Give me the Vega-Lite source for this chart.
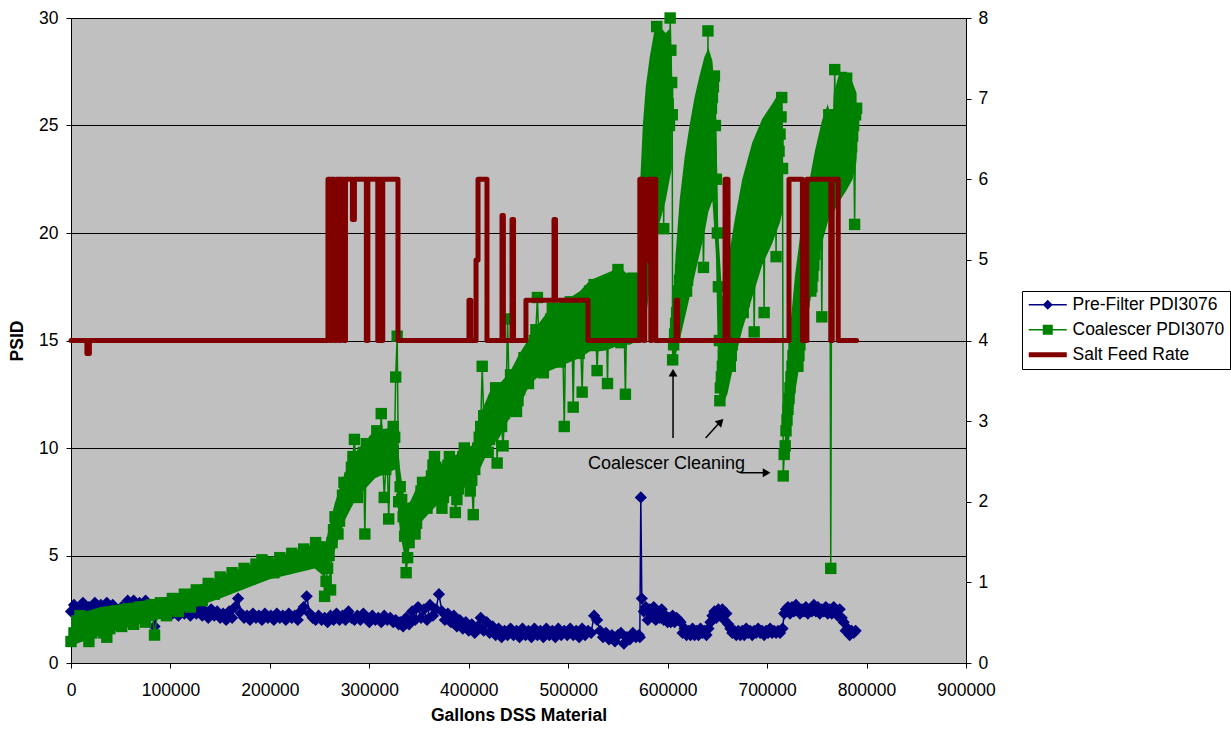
{
"$schema": "https://vega.github.io/schema/vega-lite/v6.json",
"width": 895, "height": 645,
"autosize": {"type": "none"},
"padding": {"left": 71, "top": 18, "right": 265, "bottom": 67},
"background": "white",
"config": {
 "view": {"fill": "#C0C0C0", "stroke": "#808080", "strokeWidth": 1},
 "font": "Liberation Sans",
 "axis": {"labelFont": "Liberation Sans", "labelFontSize": 17.5, "labelColor": "#000", "titleFont": "Liberation Sans", "titleFontSize": 17.5, "titleFontWeight": "bold", "titleColor": "#000", "domainColor": "#000", "domainWidth": 1, "tickColor": "#000", "tickSize": 5, "tickWidth": 1}
},
"datasets": {
 "main": [
{"g":0,"p":2.4,"c":1.0},{"g":3000,"p":2.7,"c":1.4},{"g":6000,"p":2.3,"c":1.8},{"g":9000,"p":2.6,"c":2.2},{"g":12000,"p":2.8,"c":1.8},{"g":15000,"p":2.4,"c":1.4},{"g":18000,"p":2.6,"c":1.0},{"g":21000,"p":2.3,"c":1.4},{"g":24000,"p":2.8,"c":1.8},{"g":27000,"p":2.5,"c":2.2},{"g":30000,"p":2.7,"c":1.8},{"g":33000,"p":2.4,"c":1.4},{"g":36000,"p":2.8,"c":1.2},{"g":39000,"p":2.3,"c":1.6},{"g":42000,"p":2.7,"c":2.0},{"g":45000,"p":2.5,"c":2.4},{"g":48000,"p":2.2,"c":2.0},{"g":51000,"p":2.6,"c":1.7},{"g":54000,"p":2.4,"c":2.1},{"g":57000,"p":2.9,"c":2.5},{"g":60000,"p":2.5,"c":2.1},{"g":63000,"p":2.9,"c":1.8},{"g":66000,"p":2.4,"c":2.2},{"g":69000,"p":2.8,"c":2.6},{"g":72000,"p":2.5,"c":2.2},{"g":75000,"p":2.9,"c":1.9},{"g":78000,"p":2.2,"c":2.3},{"g":81000,"p":2.7,"c":2.7},{"g":84000,"p":1.7,"c":1.3},{"g":87000,"p":2.4,"c":2.3},{"g":90000,"p":2.7,"c":2.8},{"g":93000,"p":2.4,"c":2.4},{"g":96000,"p":2.8,"c":2.2},{"g":99000,"p":2.5,"c":2.6},
{"g":102000,"p":2.3,"c":3.0},{"g":105000,"p":2.6,"c":2.6},{"g":108000,"p":2.2,"c":2.4},{"g":111000,"p":2.7,"c":2.8},{"g":114000,"p":2.3,"c":3.2},{"g":117000,"p":2.6,"c":2.8},{"g":120000,"p":2.2,"c":2.6},{"g":123000,"p":2.5,"c":3.0},{"g":126000,"p":2.3,"c":3.4},{"g":129000,"p":2.6,"c":3.0},{"g":132000,"p":2.2,"c":2.9},{"g":135000,"p":2.4,"c":3.3},{"g":138000,"p":2.1,"c":3.7},{"g":141000,"p":2.5,"c":3.3},{"g":144000,"p":2.2,"c":3.2},{"g":147000,"p":2.4,"c":3.6},{"g":150000,"p":2.1,"c":4.0},{"g":153000,"p":2.3,"c":3.6},{"g":156000,"p":2.0,"c":3.5},{"g":159000,"p":2.4,"c":3.9},{"g":162000,"p":2.1,"c":4.2},{"g":165000,"p":2.6,"c":3.8},{"g":168000,"p":3.0,"c":3.7},{"g":171000,"p":2.3,"c":4.1},{"g":174000,"p":2.1,"c":4.4},{"g":177000,"p":2.2,"c":4.0},{"g":180000,"p":2.0,"c":3.9},{"g":183000,"p":2.3,"c":4.3},{"g":186000,"p":2.1,"c":4.6},{"g":189000,"p":2.2,"c":4.2},{"g":192000,"p":2.0,"c":4.8},{"g":195000,"p":2.3,"c":4.3},{"g":198000,"p":2.1,"c":4.7},
{"g":201000,"p":2.2,"c":4.3},{"g":204000,"p":2.0,"c":4.2},{"g":207000,"p":2.3,"c":4.6},{"g":210000,"p":2.1,"c":4.9},{"g":213000,"p":2.2,"c":4.5},{"g":216000,"p":2.0,"c":4.4},{"g":219000,"p":2.3,"c":4.8},{"g":222000,"p":2.1,"c":5.1},{"g":225000,"p":2.2,"c":4.7},{"g":228000,"p":2.0,"c":4.6},{"g":231000,"p":2.4,"c":5.0},{"g":234000,"p":2.6,"c":5.3},{"g":237000,"p":3.1,"c":4.9},{"g":240000,"p":2.3,"c":4.8},{"g":243000,"p":2.1,"c":5.2},{"g":246000,"p":2.0,"c":5.6},{"g":249000,"p":2.2,"c":5.2},
{"g":250500,"c":5.4},{"g":252000,"p":2.0,"c":5.0},{"g":253500,"c":4.6},{"g":255000,"p":2.1,"c":3.1},{"g":256500,"c":3.8},{"g":258000,"p":1.9,"c":4.4},{"g":259500,"c":5.0},{"g":261000,"p":2.2,"c":3.4},{"g":262500,"c":5.6},{"g":264000,"p":2.0,"c":6.2},{"g":265500,"c":6.8},{"g":267000,"p":2.3,"c":6.4},{"g":268500,"c":6.0},{"g":270000,"p":2.0,"c":6.6},{"g":271500,"c":7.2},{"g":273000,"p":2.2,"c":7.8},{"g":274500,"c":8.4},{"g":276000,"p":2.0,"c":8.0},{"g":277500,"c":7.6},{"g":279000,"p":2.4,"c":8.1},{"g":280500,"c":8.6},{"g":282000,"p":2.1,"c":9.1},{"g":283500,"c":9.6},{"g":285000,"p":2.0,"c":10.4},{"g":286500,"c":9.2},{"g":288000,"p":2.2,"c":7.7},{"g":289500,"c":8.4},{"g":291000,"p":2.0,"c":8.8},{"g":292500,"c":9.3},{"g":294000,"p":2.3,"c":9.8},{"g":295500,"c":6.0},{"g":297000,"p":2.1,"c":10.2},{"g":298500,"c":9.7},{"g":300000,"p":1.9,"c":9.3},{"g":301500,"c":8.9},{"g":303000,"p":2.2,"c":9.3},{"g":304500,"c":9.8},{"g":306000,"p":2.0,"c":10.3},{"g":307500,"c":10.8},{"g":309000,"p":2.1,"c":10.4},{"g":310500,"c":10.0},{"g":312000,"p":1.9,"c":11.6},{"g":313500,"c":9.4},{"g":315000,"p":2.2,"c":7.7},{"g":316500,"c":9.0},{"g":318000,"p":2.0,"c":9.5},{"g":319500,"c":6.7},{"g":321000,"p":2.1,"c":10.0},{"g":322500,"c":10.5},{"g":324000,"p":1.9,"c":11.0},{"g":325500,"c":10.5},{"g":326500,"p":2.0,"c":13.3},{"g":328000,"p":1.9,"c":15.2},{"g":329500,"p":1.8,"c":7.5},{"g":331000,"p":1.9,"c":8.2},{"g":332500,"c":7.6},{"g":334000,"p":1.7,"c":6.8},{"g":335500,"c":5.9},{"g":337000,"p":2.1,"c":4.2},{"g":338500,"c":4.9},{"g":340000,"p":1.8,"c":5.6},{"g":341500,"c":6.3},{"g":343000,"p":2.4,"c":7.0},{"g":344500,"c":6.4},{"g":346000,"p":2.0,"c":6.0},{"g":347500,"c":6.5},{"g":349000,"p":2.6,"c":7.0},{"g":350500,"c":7.5},{"g":352000,"p":2.1,"c":8.0},{"g":353500,"c":8.4},{"g":355000,"p":2.5,"c":7.9},{"g":356500,"c":7.4},{"g":358000,"p":2.0,"c":7.2},{"g":359500,"c":7.7},{"g":361000,"p":2.7,"c":8.2},{"g":362500,"c":8.7},{"g":364000,"p":2.2,"c":9.2},{"g":365500,"c":9.6},{"g":367000,"p":2.5,"c":9.1},{"g":368500,"c":8.6},{"g":370000,"p":3.2,"c":8.1},{"g":371500,"c":7.6},{"g":373000,"p":2.4,"c":7.2},{"g":374500,"c":7.7},{"g":376000,"p":2.0,"c":8.2},{"g":377500,"c":8.7},{"g":379000,"p":2.3,"c":9.2},{"g":380500,"c":9.6},{"g":382000,"p":1.9,"c":9.1},{"g":383500,"c":8.6},{"g":385000,"p":2.2,"c":8.1},{"g":386500,"c":7.0},{"g":388000,"p":1.7,"c":7.6},{"g":389500,"c":8.1},{"g":391000,"p":2.0,"c":8.6},{"g":392500,"c":9.1},{"g":394000,"p":1.6,"c":9.6},{"g":395500,"c":10.0},{"g":397000,"p":1.9,"c":9.5},{"g":398500,"c":9.0},{"g":400000,"p":1.5,"c":8.5},{"g":401500,"c":8.0},{"g":403000,"p":1.8,"c":8.5},{"g":404500,"c":6.9},{"g":406000,"p":1.4,"c":9.0},{"g":407500,"c":9.5},{"g":409000,"p":1.7,"c":10.0},{"g":410500,"c":10.5},{"g":412000,"p":2.1,"c":11.0},{"g":413500,"c":13.8},{"g":415000,"p":1.5,"c":11.5},{"g":416500,"c":11.0},{"g":418000,"p":1.9,"c":10.4},{"g":419500,"c":9.8},{"g":421000,"p":1.4,"c":10.4},{"g":422500,"c":11.0},{"g":424000,"p":1.7,"c":11.6},{"g":425500,"c":12.2},{"g":427000,"p":1.3,"c":12.8},{"g":428500,"c":9.3},{"g":430000,"p":1.6,"c":12.2},{"g":431500,"c":11.6},{"g":433000,"p":1.2,"c":11.0},{"g":434500,"c":10.1},{"g":436000,"p":1.5,"c":11.6},{"g":437500,"c":12.2},{"g":439000,"p":1.3,"c":16.0},{"g":440500,"c":12.8},{"g":442000,"p":1.6,"c":13.4},{"g":443500,"c":13.0},{"g":445000,"p":1.3,"c":12.6},{"g":446500,"c":12.1},{"g":448000,"p":1.5,"c":11.7},{"g":449500,"c":12.2},{"g":451000,"p":1.2,"c":12.7},{"g":452500,"c":13.2},{"g":454000,"p":1.6,"c":13.7},{"g":455500,"c":14.2},{"g":457000,"p":1.3,"c":13.8},{"g":458500,"c":13.3},{"g":460000,"p":1.5,"c":13.0},{"g":461500,"c":13.5},{"g":463000,"p":1.2,"c":14.0},{"g":464500,"c":14.5},{"g":466000,"p":1.6,"c":15.0},{"g":467500,"c":15.5},{"g":469000,"p":1.3,"c":17.0},{"g":470500,"c":15.0},{"g":472000,"p":1.5,"c":14.5},{"g":473500,"c":14.0},{"g":475000,"p":1.2,"c":13.5},{"g":476500,"c":14.0},{"g":478000,"p":1.6,"c":14.5},{"g":479500,"c":15.0},{"g":481000,"p":1.3,"c":15.5},{"g":482500,"c":16.0},{"g":484000,"p":1.5,"c":16.5},{"g":485500,"c":16.0},{"g":487000,"p":1.2,"c":15.5},{"g":488500,"c":15.0},{"g":490000,"p":1.6,"c":14.5},{"g":491500,"c":14.0},{"g":493000,"p":1.3,"c":14.5},{"g":494500,"c":15.0},{"g":496000,"p":1.5,"c":11.0},{"g":497500,"c":15.5},{"g":499000,"p":1.3,"c":16.0},{"g":500500,"c":16.5},{"g":502000,"p":1.6,"c":16.8},{"g":503500,"c":16.3},{"g":505000,"p":1.3,"c":11.9},{"g":506500,"c":15.8},{"g":508000,"p":1.5,"c":15.3},{"g":509500,"c":14.8},{"g":511000,"p":1.2,"c":14.4},{"g":512500,"c":14.9},{"g":514000,"p":1.6,"c":12.6},{"g":515500,"c":15.4},{"g":517000,"p":1.3,"c":15.9},{"g":518500,"c":16.4},{"g":520000,"p":1.5,"c":16.9},{"g":521500,"c":17.3},{"g":523000,"p":1.4,"c":16.8},{"g":524500,"c":16.3},{"g":526000,"p":2.2,"c":17.6},{"g":527500,"c":15.8},{"g":529000,"p":2.0,"c":13.6},{"g":530500,"c":15.3},{"g":532000,"p":1.5,"c":14.8},{"g":533500,"c":15.3},{"g":535000,"p":1.2,"c":15.8},{"g":536500,"c":16.3},{"g":538000,"p":1.4,"c":16.8},{"g":539500,"c":13.0},{"g":541000,"p":1.1,"c":17.3},{"g":542500,"c":17.6},{"g":544000,"p":1.3,"c":17.1},{"g":545500,"c":16.6},{"g":547000,"p":1.0,"c":16.1},{"g":548500,"c":15.6},{"g":550000,"p":1.3,"c":18.3},{"g":551500,"c":15.2},{"g":553000,"p":1.4,"c":14.9},{"g":554500,"c":15.7},{"g":556000,"p":0.9,"c":16.2},{"g":557500,"c":12.5},{"g":559000,"p":1.2,"c":16.7},{"g":560500,"c":17.2},{"g":562000,"p":1.1,"c":17.7},{"g":563500,"c":15.5},{"g":565000,"p":1.4,"c":17.9},{"g":566500,"c":17.4},{"g":568000,"p":1.2,"c":16.9},{"g":569500,"c":16.4},{"g":571000,"p":1.3,"c":15.9},
{"g":572000,"p":1.2,"c":16.0},{"g":573000,"p":7.7,"c":16.5},{"g":574000,"p":3.0,"c":17.0},{"g":575000,"c":17.5},{"g":576000,"p":2.4,"c":18.0},{"g":577000,"c":18.5},{"g":578000,"p":2.6,"c":19.0},{"g":579000,"c":19.5},{"g":580000,"p":2.0,"c":20.0},{"g":581000,"c":20.5},{"g":582000,"p":2.5,"c":21.0},{"g":583000,"c":21.5},{"g":584000,"p":2.2,"c":22.0},{"g":585000,"c":22.5},{"g":586000,"p":2.6,"c":23.0},{"g":587000,"c":23.5},{"g":588000,"p":2.0,"c":24.0},{"g":589000,"c":29.6},{"g":589500,"c":24.5},{"g":590000,"p":2.3,"c":25.0},{"g":591000,"c":25.5},{"g":592000,"p":2.1,"c":26.0},{"g":593000,"c":26.5},{"g":594000,"p":2.5,"c":27.0},{"g":595000,"c":27.5},{"g":596000,"p":2.0,"c":20.2},{"g":597000,"c":28.0},{"g":598000,"p":2.2,"c":27.5},{"g":599000,"c":27.0},{"g":600000,"p":1.9,"c":26.5},{"g":600600,"c":26.0},{"g":601200,"p":2.1,"c":25.5},{"g":601800,"c":25.0},{"g":602500,"c":30.0},{"g":603200,"p":1.9,"c":28.5},{"g":604000,"c":27.0},{"g":604600,"c":25.5},
{"g":605000,"p":2.2,"c":14.1},{"g":606000,"c":14.8},{"g":607000,"p":1.9,"c":15.3},{"g":608000,"c":15.8},{"g":609000,"p":2.1,"c":16.3},{"g":610000,"c":16.8},{"g":611000,"p":2.0,"c":17.3},{"g":612000,"c":17.8},{"g":613000,"p":1.9,"c":18.3},{"g":614000,"c":18.8},{"g":615000,"p":1.4,"c":19.3},{"g":616000,"c":18.8},{"g":617000,"p":1.6,"c":18.3},{"g":618000,"c":17.8},{"g":619000,"p":1.3,"c":17.3},{"g":620000,"c":17.8},{"g":621000,"p":1.5,"c":18.3},{"g":622000,"c":18.8},{"g":623000,"p":1.3,"c":19.3},{"g":624000,"c":19.8},{"g":625000,"p":1.6,"c":20.3},{"g":626000,"c":20.8},{"g":627000,"p":1.3,"c":21.3},{"g":628000,"c":21.8},{"g":629000,"p":1.5,"c":22.3},{"g":630000,"c":22.8},{"g":631000,"p":1.3,"c":23.3},{"g":632000,"c":22.8},{"g":633000,"p":1.6,"c":22.3},{"g":634000,"c":21.8},{"g":635000,"p":1.4,"c":21.3},{"g":636000,"c":18.4},{"g":637000,"p":1.5,"c":21.8},{"g":638000,"c":22.3},{"g":639000,"p":1.3,"c":22.8},{"g":640000,"c":23.3},{"g":640500,"c":29.4},{"g":641000,"p":1.6,"c":24.3},{"g":642000,"c":24.8},{"g":643000,"p":1.9,"c":25.3},{"g":644000,"c":25.8},{"g":645000,"p":2.2,"c":26.3},{"g":646000,"c":26.8},{"g":647000,"p":2.4,"c":27.3},{"g":648000,"c":25.0},{"g":649000,"p":2.1,"c":22.5},{"g":650000,"c":20.0},{"g":651000,"p":2.5,"c":17.5},{"g":652000,"c":15.0},{"g":652500,"c":12.2},
{"g":653000,"p":2.2,"c":12.8},{"g":654000,"c":13.3},{"g":655000,"p":2.5,"c":13.8},{"g":656000,"c":14.3},{"g":657000,"p":2.0,"c":14.8},{"g":658000,"c":15.3},{"g":659000,"p":2.3,"c":15.8},{"g":660000,"c":15.3},{"g":661000,"p":1.8,"c":14.8},{"g":662000,"c":14.3},{"g":663000,"p":1.6,"c":13.8},{"g":664000,"c":14.3},{"g":665000,"p":1.4,"c":14.8},{"g":666000,"c":15.3},{"g":667000,"p":1.5,"c":15.8},{"g":668000,"c":16.3},{"g":669000,"p":1.3,"c":16.8},{"g":670000,"c":17.3},{"g":671000,"p":1.5,"c":17.8},{"g":672000,"c":18.3},{"g":673000,"p":1.3,"c":17.8},{"g":674000,"c":17.3},{"g":675000,"p":1.5,"c":16.8},{"g":676000,"c":16.3},{"g":677000,"p":1.3,"c":16.8},{"g":678000,"c":17.3},{"g":679000,"p":1.6,"c":17.8},{"g":680000,"c":18.3},{"g":681000,"p":1.4,"c":18.8},{"g":682000,"c":19.3},{"g":683000,"p":1.5,"c":19.8},{"g":684000,"c":20.3},{"g":685000,"p":1.3,"c":20.8},{"g":686000,"c":20.3},{"g":687000,"p":1.5,"c":15.4},{"g":688000,"c":19.8},{"g":689000,"p":1.4,"c":19.3},{"g":690000,"c":19.8},{"g":691000,"p":1.6,"c":20.3},{"g":692000,"c":20.8},{"g":693000,"p":1.4,"c":21.3},{"g":694000,"c":21.8},{"g":695000,"p":1.5,"c":22.3},{"g":696000,"c":22.8},{"g":697000,"p":1.3,"c":16.3},{"g":698000,"c":23.3},{"g":699000,"p":1.5,"c":22.8},{"g":700000,"c":22.3},{"g":701000,"p":1.4,"c":21.8},{"g":702000,"c":21.3},{"g":703000,"p":1.6,"c":21.8},{"g":704000,"c":22.3},{"g":705000,"p":1.4,"c":22.8},{"g":706000,"c":23.3},{"g":707000,"p":1.5,"c":23.8},{"g":708000,"c":24.3},{"g":709000,"p":1.4,"c":18.9},{"g":710000,"c":24.8},{"g":711000,"p":1.5,"c":24.3},{"g":712000,"c":23.8},{"g":713000,"p":1.4,"c":24.6},{"g":714000,"c":25.4},{"g":714700,"c":26.3},{"g":715500,"p":1.6,"c":23.0},{"g":716200,"c":8.7},{"g":717200,"p":2.3,"c":9.7},{"g":718200,"c":10.1},
{"g":719000,"p":2.5,"c":10.8},{"g":720000,"c":11.3},{"g":721000,"p":2.6,"c":11.8},{"g":722000,"c":12.3},{"g":723000,"p":2.3,"c":12.8},{"g":724000,"c":13.3},{"g":725000,"p":2.6,"c":13.8},{"g":726000,"c":14.3},{"g":727000,"p":2.4,"c":14.8},{"g":728000,"c":15.3},{"g":729000,"p":2.7,"c":14.8},{"g":730000,"c":14.3},{"g":731000,"p":2.5,"c":13.8},{"g":732000,"c":14.3},{"g":733000,"p":2.3,"c":14.8},{"g":734000,"c":15.3},{"g":735000,"p":2.5,"c":15.8},{"g":736000,"c":16.3},{"g":737000,"p":2.4,"c":16.8},{"g":738000,"c":17.3},{"g":739000,"p":2.6,"c":17.8},{"g":740000,"c":18.3},{"g":741000,"p":2.3,"c":18.8},{"g":742000,"c":18.3},{"g":743000,"p":2.5,"c":17.8},{"g":744000,"c":17.3},{"g":745000,"p":2.4,"c":17.5},{"g":746000,"c":18.0},{"g":747000,"p":2.7,"c":18.5},{"g":748000,"c":19.0},{"g":749000,"p":2.4,"c":19.5},{"g":750000,"c":20.0},{"g":751000,"p":2.6,"c":20.5},{"g":752000,"c":21.0},{"g":753000,"p":2.3,"c":21.5},{"g":754000,"c":22.0},{"g":755000,"p":2.5,"c":16.1},{"g":756000,"c":22.5},{"g":757000,"p":2.4,"c":23.0},{"g":758000,"c":23.5},{"g":759000,"p":2.6,"c":24.0},{"g":760000,"c":24.5},{"g":761000,"p":2.3,"c":25.0},{"g":762000,"c":25.5},{"g":763000,"p":2.5,"c":24.0},{"g":764000,"c":4.4},{"g":765000,"p":2.3,"c":22.0},{"g":766000,"c":22.5},{"g":767000,"p":2.6,"c":23.0},{"g":768000,"c":27.6},{"g":769000,"p":2.4,"c":23.5},{"g":770000,"c":24.0},{"g":771000,"p":2.2,"c":24.5},{"g":772000,"c":25.0},{"g":773000,"p":2.5,"c":25.5},{"g":774000,"c":26.0},{"g":775000,"p":2.1,"c":26.5},{"g":776000,"c":26.0},{"g":777000,"p":1.9,"c":25.5},{"g":778000,"c":25.0},{"g":779000,"p":1.5,"c":24.5},{"g":780000,"c":27.2},{"g":781000,"p":1.6,"c":24.0},{"g":782000,"c":23.5},{"g":783000,"p":1.3,"c":23.0},{"g":784000,"c":23.5},{"g":785000,"p":1.5,"c":24.0},{"g":786000,"c":24.5},{"g":787000,"p":1.4,"c":25.0},{"g":788000,"c":20.4},{"g":789000,"p":1.5,"c":25.5},{"g":790000,"c":25.8}
 ],
 "band": [
{"seg":"a","g":0,"lo":0.8,"hi":2.2},{"seg":"a","g":30000,"lo":1.3,"hi":2.6},{"seg":"a","g":60000,"lo":1.7,"hi":2.8},{"seg":"a","g":100000,"lo":2.2,"hi":3.1},{"seg":"a","g":150000,"lo":3.0,"hi":4.0},{"seg":"a","g":200000,"lo":3.9,"hi":4.8},{"seg":"a","g":245000,"lo":4.4,"hi":5.4},{"seg":"a","g":255000,"lo":4.0,"hi":5.4},{"seg":"a","g":265000,"lo":5.2,"hi":7.4},{"seg":"a","g":275000,"lo":6.6,"hi":8.8},{"seg":"a","g":286000,"lo":7.6,"hi":9.8},{"seg":"a","g":296000,"lo":8.1,"hi":10.3},{"seg":"a","g":306000,"lo":8.6,"hi":10.9},{"seg":"a","g":316000,"lo":8.8,"hi":10.9},{"seg":"a","g":326000,"lo":9.0,"hi":11.0},{"seg":"a","g":329000,"lo":7.0,"hi":10.0},{"seg":"a","g":331000,"lo":6.0,"hi":9.0},{"seg":"a","g":336000,"lo":4.8,"hi":7.4},{"seg":"a","g":341000,"lo":5.4,"hi":7.5},{"seg":"a","g":351000,"lo":6.5,"hi":8.5},{"seg":"a","g":371000,"lo":7.5,"hi":9.2},{"seg":"a","g":391000,"lo":8.0,"hi":9.8},{"seg":"a","g":406000,"lo":8.5,"hi":10.2},{"seg":"a","g":411000,"lo":9.0,"hi":11.5},{"seg":"a","g":421000,"lo":10.0,"hi":12.6},{"seg":"a","g":431000,"lo":10.5,"hi":13.0},{"seg":"a","g":441000,"lo":11.4,"hi":13.5},{"seg":"a","g":451000,"lo":12.0,"hi":14.4},{"seg":"a","g":462000,"lo":13.0,"hi":15.2},{"seg":"a","g":472000,"lo":13.4,"hi":15.9},{"seg":"a","g":482000,"lo":13.6,"hi":16.5},{"seg":"a","g":492000,"lo":13.8,"hi":16.8},{"seg":"a","g":502000,"lo":14.0,"hi":17.0},{"seg":"a","g":512000,"lo":14.2,"hi":17.3},{"seg":"a","g":522000,"lo":14.5,"hi":17.8},{"seg":"a","g":532000,"lo":14.5,"hi":18.0},{"seg":"a","g":542000,"lo":14.6,"hi":18.2},{"seg":"a","g":552000,"lo":14.8,"hi":18.4},{"seg":"a","g":562000,"lo":14.8,"hi":18.0},{"seg":"a","g":570000,"lo":15.0,"hi":18.0},{"seg":"a","g":572000,"lo":15.0,"hi":22.0},{"seg":"a","g":575000,"lo":15.2,"hi":25.0},{"seg":"a","g":578000,"lo":16.0,"hi":26.8},{"seg":"a","g":582000,"lo":17.5,"hi":28.2},{"seg":"a","g":587000,"lo":19.0,"hi":29.5},{"seg":"a","g":592000,"lo":20.5,"hi":29.6},{"seg":"a","g":598000,"lo":21.5,"hi":29.3},{"seg":"a","g":602000,"lo":22.5,"hi":29.5},{"seg":"a","g":604200,"lo":23.0,"hi":28.3},
{"seg":"b","g":605000,"lo":13.8,"hi":16.0},{"seg":"b","g":608000,"lo":14.3,"hi":19.0},{"seg":"b","g":612000,"lo":15.0,"hi":21.5},{"seg":"b","g":617000,"lo":16.0,"hi":23.5},{"seg":"b","g":622000,"lo":17.0,"hi":25.0},{"seg":"b","g":627000,"lo":18.0,"hi":26.3},{"seg":"b","g":632000,"lo":19.0,"hi":27.3},{"seg":"b","g":637000,"lo":20.0,"hi":28.2},{"seg":"b","g":641000,"lo":21.0,"hi":28.6},{"seg":"b","g":645000,"lo":21.5,"hi":28.0},{"seg":"b","g":648500,"lo":19.0,"hi":26.0},{"seg":"b","g":651000,"lo":13.0,"hi":20.0},{"seg":"b","g":655000,"lo":12.0,"hi":17.0},{"seg":"b","g":660000,"lo":12.5,"hi":18.5},{"seg":"b","g":667000,"lo":14.0,"hi":20.5},{"seg":"b","g":675000,"lo":15.5,"hi":22.5},{"seg":"b","g":685000,"lo":17.0,"hi":24.2},{"seg":"b","g":695000,"lo":18.5,"hi":25.3},{"seg":"b","g":705000,"lo":19.5,"hi":26.0},{"seg":"b","g":713000,"lo":20.5,"hi":26.6},{"seg":"b","g":715500,"lo":21.0,"hi":26.0},
{"seg":"c","g":719000,"lo":9.5,"hi":11.0},{"seg":"c","g":721000,"lo":10.0,"hi":13.5},{"seg":"c","g":724000,"lo":11.0,"hi":16.0},{"seg":"c","g":728000,"lo":12.5,"hi":18.0},{"seg":"c","g":733000,"lo":14.0,"hi":19.8},{"seg":"c","g":740000,"lo":16.0,"hi":21.8},{"seg":"c","g":748000,"lo":18.0,"hi":23.8},{"seg":"c","g":755000,"lo":19.5,"hi":25.2},{"seg":"c","g":761000,"lo":20.5,"hi":26.0},{"seg":"c","g":763500,"lo":21.0,"hi":25.5},
{"seg":"d","g":765500,"lo":20.5,"hi":24.5},{"seg":"d","g":767000,"lo":21.0,"hi":26.5},{"seg":"d","g":773000,"lo":21.5,"hi":27.5},{"seg":"d","g":780000,"lo":22.0,"hi":27.5},{"seg":"d","g":786000,"lo":22.5,"hi":27.0},{"seg":"d","g":790000,"lo":23.5,"hi":26.5}
 ],
 "salt": [
{"g":0,"s":4},{"g":16000,"s":3.84},{"g":18500,"s":4},{"g":258400,"s":6},{"g":261000,"s":4},{"g":262400,"s":6},{"g":265000,"s":4},{"g":267000,"s":6},{"g":269500,"s":4},{"g":271000,"s":6},{"g":274500,"s":4},{"g":276000,"s":6},{"g":283000,"s":5.5},{"g":285000,"s":6},{"g":297000,"s":4},{"g":298500,"s":6},{"g":308500,"s":4},{"g":310000,"s":6},{"g":312000,"s":4},{"g":313500,"s":6},{"g":328800,"s":4},{"g":400200,"s":4.5},{"g":402000,"s":4},{"g":407300,"s":5.0},{"g":409300,"s":6},{"g":418300,"s":4},{"g":433400,"s":5.55},{"g":434800,"s":4},{"g":443500,"s":5.5},{"g":445000,"s":4},{"g":457500,"s":4.5},{"g":485700,"s":5.5},{"g":487200,"s":4.5},{"g":519900,"s":4},{"g":572000,"s":6},{"g":576000,"s":4},{"g":577000,"s":5.0},{"g":580500,"s":6},{"g":583000,"s":4},{"g":584000,"s":6},{"g":588000,"s":4},{"g":608400,"s":4.5},{"g":610000,"s":4},{"g":657700,"s":6},{"g":660700,"s":4},{"g":722000,"s":6},{"g":735500,"s":4},{"g":740000,"s":6},{"g":764000,"s":4},{"g":765500,"s":6},{"g":771500,"s":4},{"g":790000,"s":4}
 ],
 "arrows": [
{"id":"a","g":605400,"y":10.47,"g2":605400,"y2":13.6},
{"id":"b","g":638200,"y":10.47,"g2":654500,"y2":11.3},
{"id":"c","g":672700,"y":8.85,"g2":700000,"y2":8.85}
 ],
 "heads": [
{"id":"a","g":605400,"y":13.5},
{"id":"b","g":653300,"y":11.22},
{"id":"c","g":699500,"y":8.85}
 ],
 "notes": [
{"g":519900,"y":9.02,"t":"Coalescer Cleaning"}
 ]
},
"encoding": {
 "x": {"field": "g", "type": "quantitative", "scale": {"domain": [0, 900000], "nice": false, "zero": true},
   "axis": {"values": [0,100000,200000,300000,400000,500000,600000,700000,800000,900000], "format": "d", "title": "Gallons DSS Material", "grid": false, "labelPadding": 13, "titlePadding": 8, "labelFlush": false}}
},
"layer": [
 {"layer": [
  {"data": {"name": "main"},
   "mark": {"type": "line", "strokeWidth": 1.5, "invalid": "filter"},
   "encoding": {
     "y": {"field": "p", "type": "quantitative", "scale": {"domain": [0, 30], "nice": false},
       "axis": {"values": [0,5,10,15,20,25,30], "title": "PSID", "grid": true, "gridColor": "#000", "gridWidth": 1, "labelPadding": 8, "titlePadding": 12}},
     "color": {"datum": "p", "type": "nominal",
       "scale": {"domain": ["p", "c", "s"], "range": ["#000080", "#008000", "#800000"]},
       "legend": {"title": null, "orient": "none", "legendX": 951, "legendY": 273,
         "labelExpr": "datum.value === 'p' ? 'Pre-Filter PDI3076' : datum.value === 'c' ? 'Coalescer PDI3070' : 'Salt Feed Rate'",
         "symbolSize": 196, "labelOffset": 28, "labelFont": "Liberation Sans", "labelFontSize": 17.5, "labelColor": "#000", "labelLimit": 400,
         "rowPadding": 6, "padding": 5, "strokeColor": "#000", "fillColor": "#fff", "cornerRadius": 0,
         "encode": {"symbols": {"update": {
           "shape": {"signal": "datum.value === 'p' ? 'M-1,-0.1L4.43,-0.1L4.43,0.1L-1,0.1Z M1.71,-0.71L2.43,0L1.71,0.71L1,0Z' : datum.value === 'c' ? 'M-1,-0.1L4.43,-0.1L4.43,0.1L-1,0.1Z M1,-0.71L2.43,-0.71L2.43,0.71L1,0.71Z' : 'M-1,-0.36L4.43,-0.36L4.43,0.36L-1,0.36Z'"},
           "fill": {"signal": "datum.value === 'p' ? '#000080' : datum.value === 'c' ? '#008000' : '#800000'"},
           "fillOpacity": {"value": 1},
           "opacity": {"value": 1},
           "strokeWidth": {"value": 0}
         }}}
       }}
   }},
  {"data": {"name": "main"},
   "mark": {"type": "point", "shape": "diamond", "filled": true, "size": 150, "color": "#000080", "opacity": 1, "invalid": "filter"},
   "encoding": {"y": {"field": "p", "type": "quantitative", "title": "PSID"}}},
  {"data": {"name": "band"},
   "mark": {"type": "area", "color": "#008000", "opacity": 1, "interpolate": "linear"},
   "encoding": {"y": {"field": "lo", "type": "quantitative", "title": "PSID"}, "y2": {"field": "hi"}, "detail": {"field": "seg", "type": "nominal"}}},
  {"data": {"name": "main"},
   "mark": {"type": "line", "strokeWidth": 1.5, "invalid": "filter"},
   "encoding": {"y": {"field": "c", "type": "quantitative", "title": "PSID"},
     "color": {"datum": "c", "type": "nominal"}}},
  {"data": {"name": "main"},
   "mark": {"type": "point", "shape": "square", "filled": true, "size": 130, "color": "#008000", "opacity": 1, "invalid": "filter"},
   "encoding": {"y": {"field": "c", "type": "quantitative", "title": "PSID"}}},
  {"data": {"name": "arrows"},
   "mark": {"type": "rule", "color": "#000", "strokeWidth": 1.5},
   "encoding": {"y": {"field": "y", "type": "quantitative", "title": "PSID"}, "x2": {"field": "g2"}, "y2": {"field": "y2"}}},
  {"data": {"name": "heads"}, "transform": [{"filter": "datum.id === 'a'"}],
   "mark": {"type": "point", "shape": "triangle-up", "filled": true, "size": 80, "color": "#000", "opacity": 1, "angle": 0},
   "encoding": {"y": {"field": "y", "type": "quantitative", "title": "PSID"}}},
  {"data": {"name": "heads"}, "transform": [{"filter": "datum.id === 'b'"}],
   "mark": {"type": "point", "shape": "triangle-up", "filled": true, "size": 80, "color": "#000", "opacity": 1, "angle": 45},
   "encoding": {"y": {"field": "y", "type": "quantitative", "title": "PSID"}}},
  {"data": {"name": "heads"}, "transform": [{"filter": "datum.id === 'c'"}],
   "mark": {"type": "point", "shape": "triangle-up", "filled": true, "size": 80, "color": "#000", "opacity": 1, "angle": 90},
   "encoding": {"y": {"field": "y", "type": "quantitative", "title": "PSID"}}},
  {"data": {"name": "notes"},
   "mark": {"type": "text", "align": "left", "baseline": "alphabetic", "font": "Liberation Sans", "fontSize": 18, "color": "#000"},
   "encoding": {"y": {"field": "y", "type": "quantitative", "title": "PSID"}, "text": {"field": "t"}}}
 ]},
 {"data": {"name": "salt"},
  "mark": {"type": "line", "interpolate": "step-after", "strokeWidth": 5, "strokeCap": "round", "strokeJoin": "round"},
  "encoding": {
    "y": {"field": "s", "type": "quantitative", "scale": {"domain": [0, 8], "nice": false},
      "axis": {"orient": "right", "values": [0,1,2,3,4,5,6,7,8], "title": null, "grid": false, "labelPadding": 7}},
    "color": {"datum": "s", "type": "nominal"}
  }}
],
"resolve": {"scale": {"y": "independent"}}
}
